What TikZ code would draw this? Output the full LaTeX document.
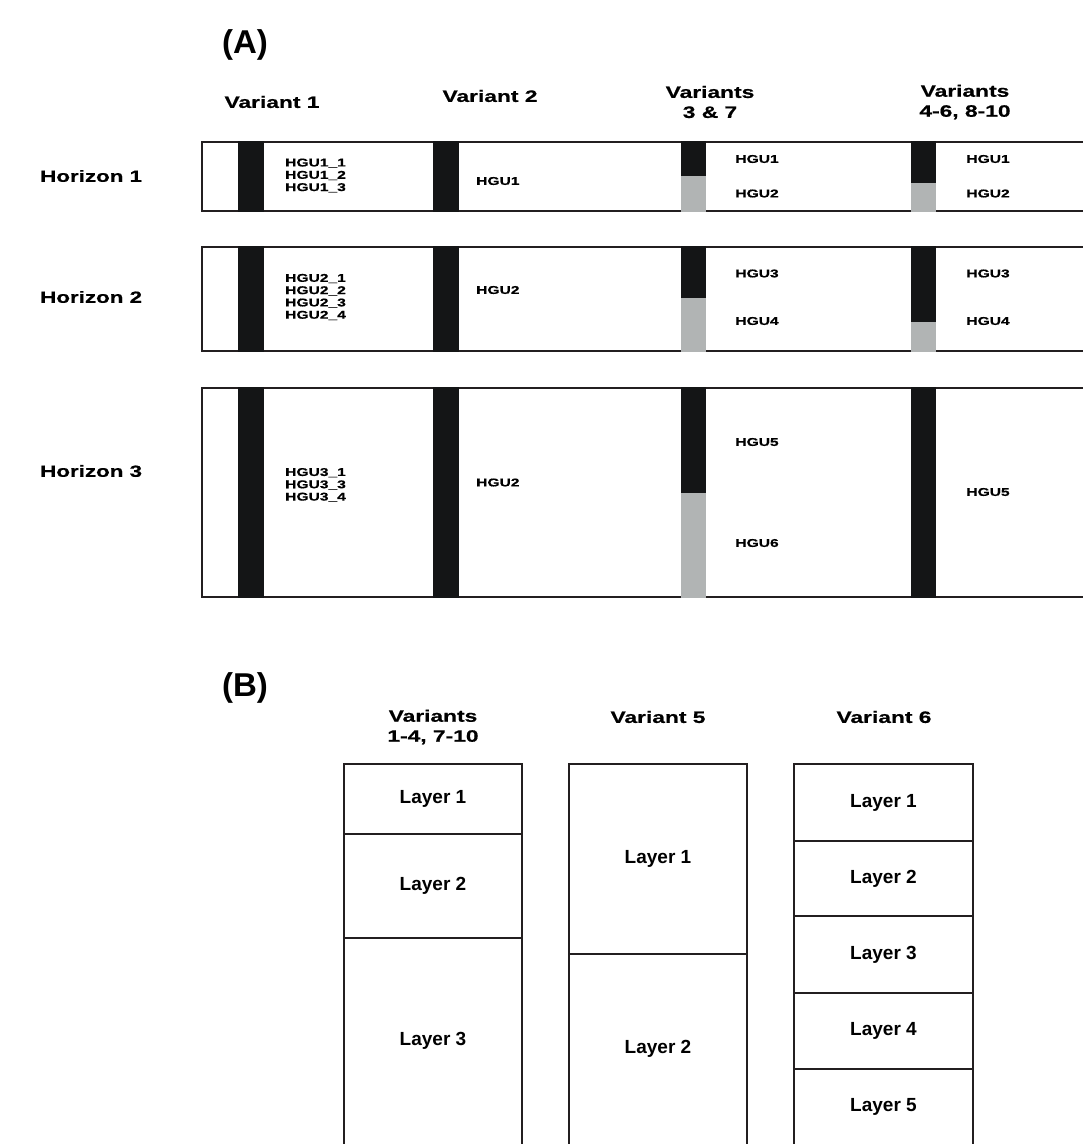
\documentclass[tikz,border=0pt]{standalone}
\usepackage{fontspec}
\setmainfont{Liberation Sans}
\newfontfamily\widefont[FakeStretch=1.38,BoldFeatures={FakeBold=0.6}]{Liberation Sans}
\usetikzlibrary{positioning}
\definecolor{Ink}{HTML}{231F20}
\definecolor{Bar}{HTML}{141516}
\definecolor{Grey}{HTML}{B1B4B4}

\begin{document}
\begin{tikzpicture}[x=1pt,y=-1pt,
  panel/.style={font=\fontsize{33}{35}\selectfont\bfseries,inner sep=0pt},
  head/.style={font=\widefont\fontsize{16.5}{20}\selectfont\bfseries,
    align=center,inner sep=0pt},
  horizon/.style={font=\widefont\fontsize{16.2}{18}\selectfont\bfseries,
    anchor=west,inner sep=0pt},
  unit/.style={font=\widefont\fontsize{11.3}{12.3}\selectfont\bfseries,
    align=left,inner sep=0pt},
  layer/.style={font=\fontsize{19}{22}\selectfont\bfseries,inner sep=0pt},
  frame/.style={draw=Ink,line width=1.6pt},
  cut/.style={draw=Ink,line width=1.5pt}
]
\useasboundingbox (0,0) rectangle (1083,1144);

% Panel A: horizons and variants.
\node[panel] (pa) at (245,45) {(A)};
\node[head] (v1) at (272,102) {Variant 1};
\node[head] (v2) at (490,96) {Variant 2};
\node[head] (v3) at (710,102) {Variants\\3 \& 7};
\node[head] (v4) at (965,102) {Variants\\4-6, 8-10};

\node[horizon] (h1) at (40,176) {Horizon 1};
\node[horizon] (h2) at (40,297) {Horizon 2};
\node[horizon] (h3) at (40,471) {Horizon 3};

\draw[frame] (1086,142) -| (202,211) -- (1086,211);
\draw[frame] (1086,247) -| (202,351) -- (1086,351);
\draw[frame] (1086,388) -| (202,597) -- (1086,597);

% Horizon 1
\fill[Bar] (238,141) rectangle (264,212);
\fill[Bar] (433,141) rectangle (459,212);
\fill[Bar] (681,141) rectangle (706,176);
\fill[Grey] (681,176) rectangle (706,212);
\fill[Bar] (911,141) rectangle (936,183);
\fill[Grey] (911,183) rectangle (936,212);
\node[unit,anchor=west] (u11) at (285,175.5) {HGU1\_1\\HGU1\_2\\HGU1\_3};
\node[unit,anchor=west] (u12) at (476,181) {HGU1};
\node[unit] (u13a) at (757,159) {HGU1};
\node[unit] (u13b) at (757,193.5) {HGU2};
\node[unit] (u14a) at (988,159) {HGU1};
\node[unit] (u14b) at (988,193.5) {HGU2};

% Horizon 2
\fill[Bar] (238,246) rectangle (264,352);
\fill[Bar] (433,246) rectangle (459,352);
\fill[Bar] (681,246) rectangle (706,298);
\fill[Grey] (681,298) rectangle (706,352);
\fill[Bar] (911,246) rectangle (936,322);
\fill[Grey] (911,322) rectangle (936,352);
\node[unit,anchor=west] (u21) at (285,297) {HGU2\_1\\HGU2\_2\\HGU2\_3\\HGU2\_4};
\node[unit,anchor=west] (u22) at (476,290) {HGU2};
\node[unit] (u23a) at (757,273.5) {HGU3};
\node[unit] (u23b) at (757,321) {HGU4};
\node[unit] (u24a) at (988,273.5) {HGU3};
\node[unit] (u24b) at (988,321) {HGU4};

% Horizon 3
\fill[Bar] (238,387) rectangle (264,598);
\fill[Bar] (433,387) rectangle (459,598);
\fill[Bar] (681,387) rectangle (706,493);
\fill[Grey] (681,493) rectangle (706,598);
\fill[Bar] (911,387) rectangle (936,598);
\node[unit,anchor=west] (u31) at (285,485) {HGU3\_1\\HGU3\_3\\HGU3\_4};
\node[unit,anchor=west] (u32) at (476,482.5) {HGU2};
\node[unit] (u33a) at (757,442) {HGU5};
\node[unit] (u33b) at (757,543) {HGU6};
\node[unit] (u34) at (988,492) {HGU5};

% Panel B: layer schemes.
\node[panel] (pb) at (245,688) {(B)};
\node[head] (w1) at (433,727) {Variants\\1-4, 7-10};
\node[head] (w2) at (658,717) {Variant 5};
\node[head] (w3) at (884,717) {Variant 6};

\draw[frame] (344,1146) |- (522,764) -- (522,1146);
\draw[frame] (569,1146) |- (747,764) -- (747,1146);
\draw[frame] (794,1146) |- (973,764) -- (973,1146);
\draw[cut] (344,834) -- (522,834);
\draw[cut] (344,938) -- (522,938);
\draw[cut] (569,954) -- (747,954);
\foreach \y in {841,916,993,1069}
  \draw[cut] (794,\y) -- (973,\y);

\node[layer] (l11) at (433,799) {Layer 1};
\node[layer] (l12) at (433,886) {Layer 2};
\node[layer] (l13) at (433,1041) {Layer 3};
\node[layer] (l21) at (658,859) {Layer 1};
\node[layer] (l22) at (658,1049) {Layer 2};
\node[layer] (l31) at (883.5,802.5) {Layer 1};
\node[layer] (l32) at (883.5,878.5) {Layer 2};
\node[layer] (l33) at (883.5,954.5) {Layer 3};
\node[layer] (l34) at (883.5,1031) {Layer 4};
\node[layer] (l35) at (883.5,1106.5) {Layer 5};
\end{tikzpicture}
\end{document}
